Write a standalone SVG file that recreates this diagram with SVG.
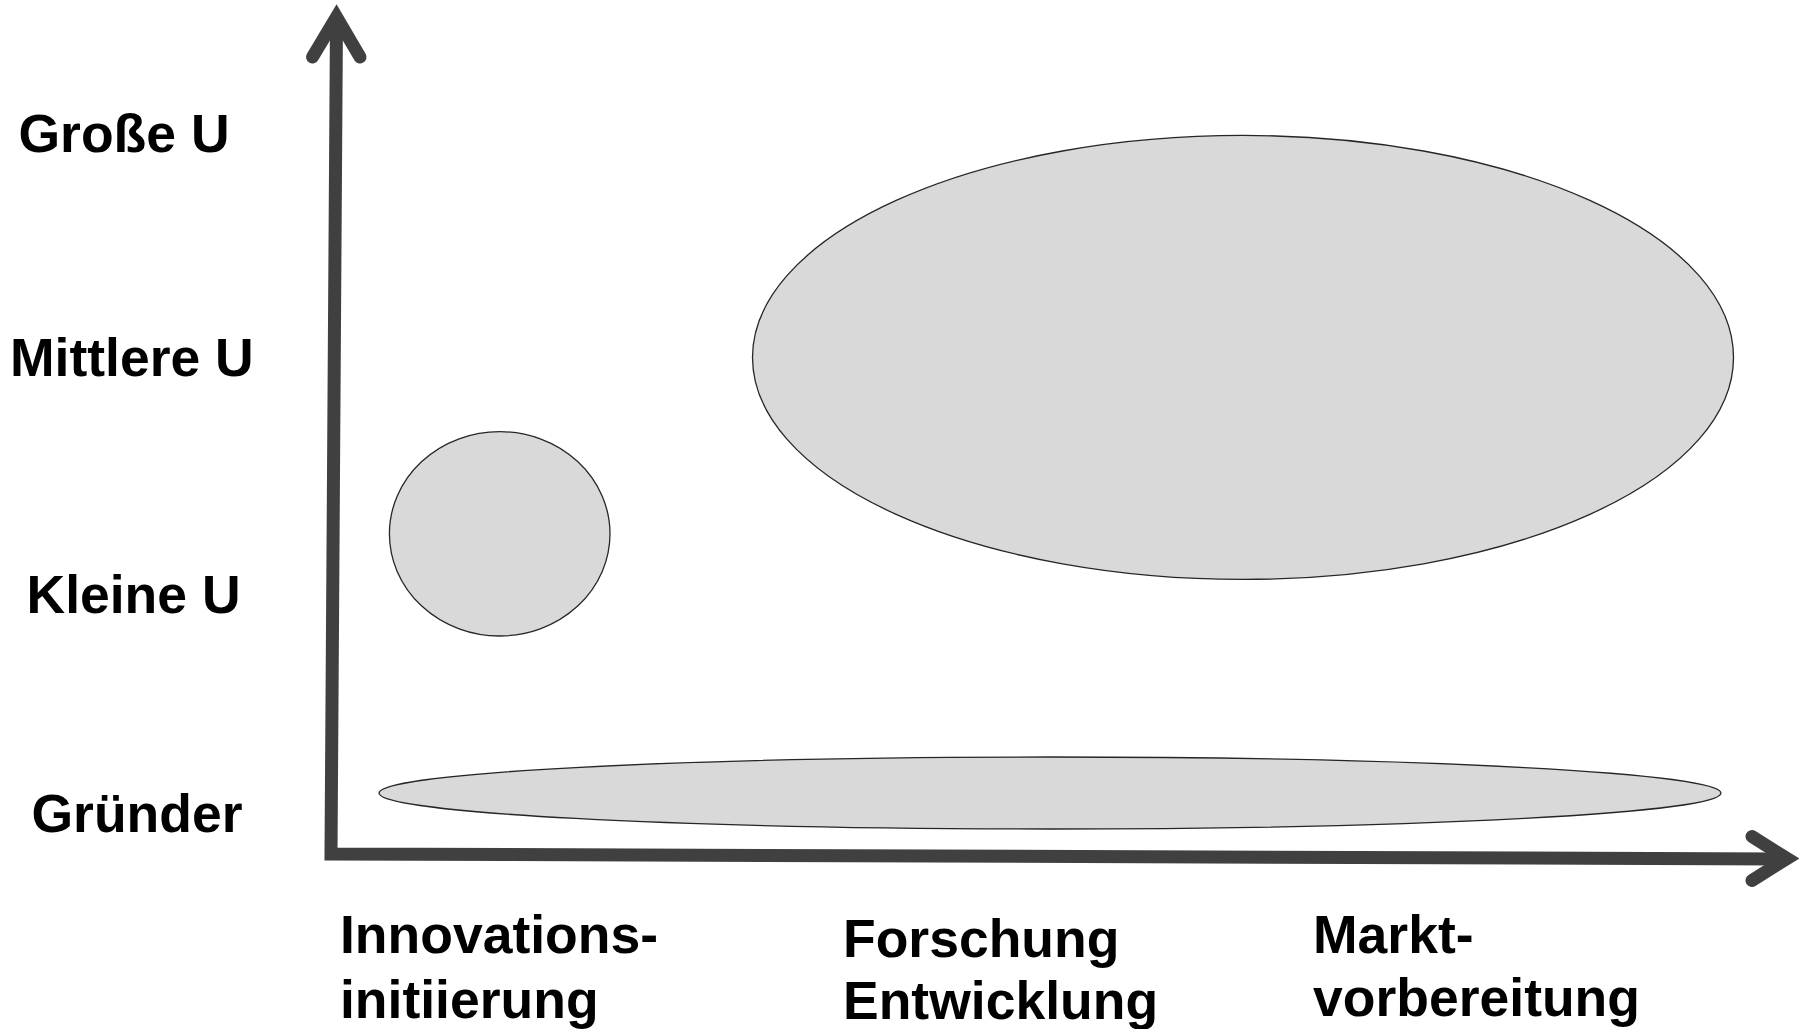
<svg xmlns="http://www.w3.org/2000/svg" width="1799" height="1029" viewBox="0 0 1799 1029">
<style>
.lbl{font-family:"Liberation Sans",Arial,sans-serif;font-weight:bold;font-size:53.5px;fill:#000}
.blob{fill:#d9d9d9;stroke:#262626;stroke-width:1.3}
.axis{fill:none;stroke:#404040;stroke-width:13}
</style>
<rect width="1799" height="1029" fill="#fff"/>
<g id="ellipse-gruender" ><ellipse class="blob" cx="1050" cy="793" rx="671" ry="36"/></g>
<g id="ellipse-kleine"><ellipse class="blob" cx="499.7" cy="533.8" rx="110.3" ry="102.2"/></g>
<g id="ellipse-mittlere"><ellipse class="blob" cx="1243" cy="357.4" rx="490.5" ry="222"/></g>
<g id="axes">
<path class="axis" d="M336.5,18 L331,854 L1786,859" stroke-linejoin="miter"/>
<path class="axis" d="M312.5,57 L336.5,17 L360,57" stroke-linecap="round" stroke-linejoin="miter" stroke-miterlimit="10"/>
<path class="axis" d="M1752,836.5 L1787,858.5 L1752,880.5" stroke-linecap="round" stroke-linejoin="miter" stroke-miterlimit="10"/>
</g>
<g id="y-labels">
<text class="lbl" x="18.5" y="152">Große U</text>
<text class="lbl" x="10" y="375.5">Mittlere U</text>
<text class="lbl" x="26.5" y="612.5">Kleine U</text>
<text class="lbl" x="31.5" y="832">Gründer</text>
</g>
<g id="x-labels">
<text class="lbl" x="340" y="953">Innovations-</text>
<text class="lbl" x="340" y="1018">initiierung</text>
<text class="lbl" x="843" y="957">Forschung</text>
<text class="lbl" x="843" y="1019">Entwicklung</text>
<text class="lbl" x="1313" y="953">Markt-</text>
<text class="lbl" x="1313" y="1016">vorbereitung</text>
</g>
</svg>
